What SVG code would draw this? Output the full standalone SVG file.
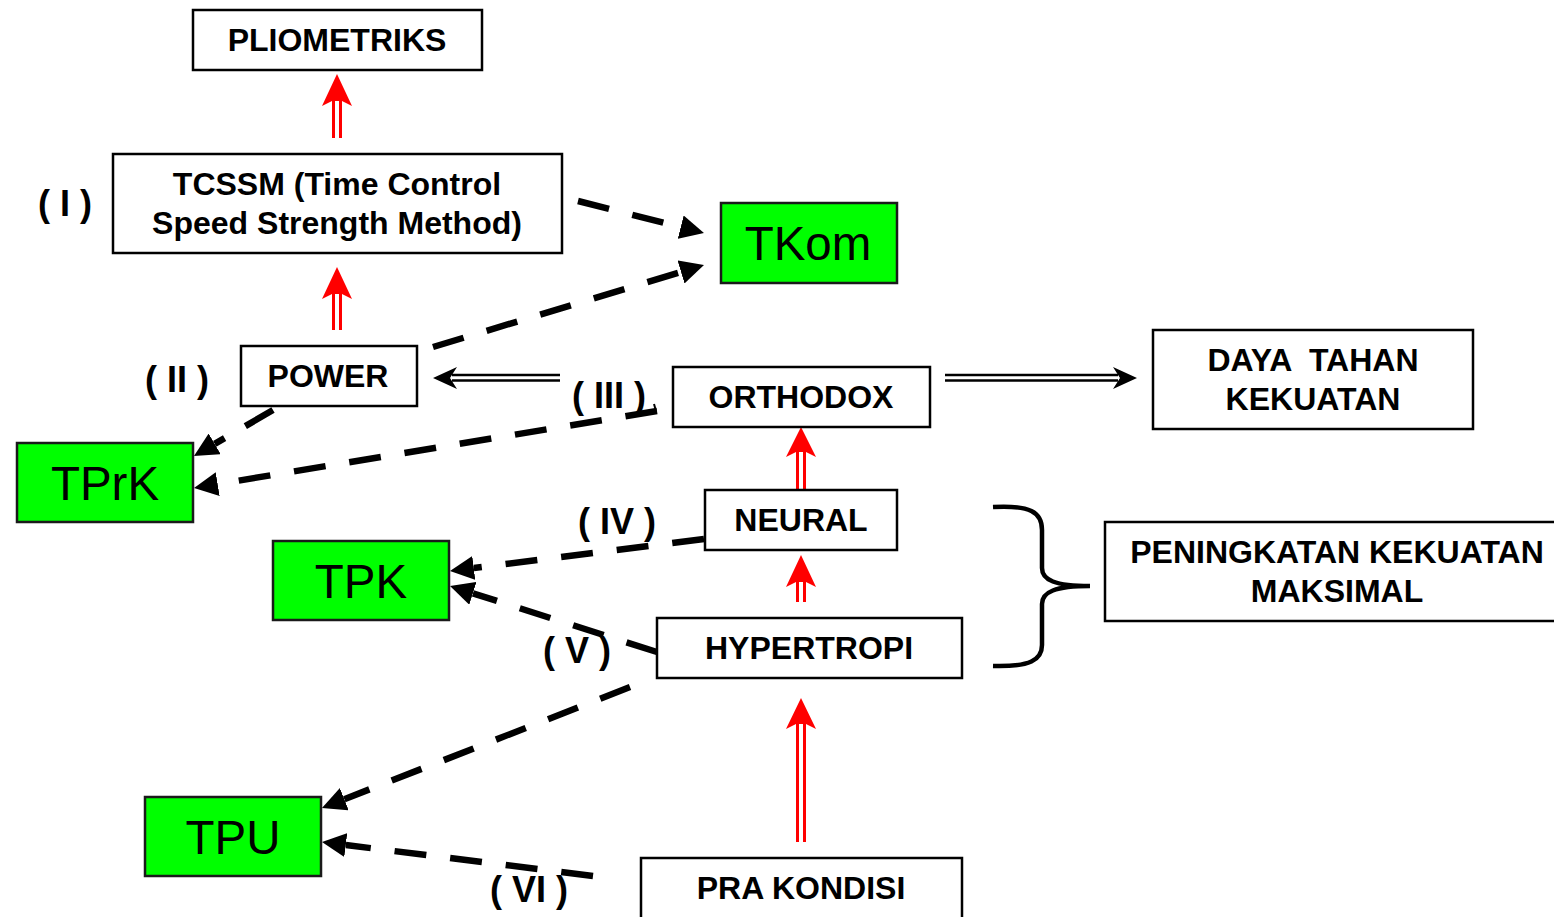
<svg xmlns="http://www.w3.org/2000/svg" width="1554" height="917" viewBox="0 0 1554 917">
<style>
.box{fill:#fff;stroke:#000;stroke-width:2.5}
.g{fill:#00ff00;stroke:#1a1a1a;stroke-width:2.5}
.t{font-family:"Liberation Sans",Arial,sans-serif;font-weight:bold;font-size:32px;text-anchor:middle;fill:#000}
.big{font-family:"Liberation Sans",Arial,sans-serif;font-size:47.5px;text-anchor:middle;fill:#000}
.lb{font-family:"Liberation Sans",Arial,sans-serif;font-weight:bold;font-size:36px;text-anchor:middle;fill:#000}
.dash{fill:none;stroke:#000;stroke-width:6.5;stroke-dasharray:32 24;marker-end:url(#ah)}
.rs{fill:none;stroke:#ff0000;stroke-width:3}
.rh{fill:#ff0000}
.bl{fill:none;stroke:#000;stroke-width:2.5}
</style>
<defs>
<marker id="ah" markerUnits="userSpaceOnUse" markerWidth="24" markerHeight="24" refX="0" refY="12" orient="auto">
<path d="M0,0 L24,12 L0,24 z" fill="#000"/>
</marker>
</defs>

<g id="connectors">
<g id="r1"><path class="rs" d="M333.5,98 V138 M340.5,98 V138"/><polygon class="rh" points="337,74 352,106 342,101 332,101 322,106"/></g>
<g id="r2"><path class="rs" d="M333.5,291 V330 M340.5,291 V330"/><polygon class="rh" points="337,267 352,299 342,294 332,294 322,299"/></g>
<g id="r3"><path class="rs" d="M797.5,449 V490 M804.5,449 V490"/><polygon class="rh" points="801,427 816,457 806,452 796,452 786,457"/></g>
<g id="r4"><path class="rs" d="M797.5,579 V602 M804.5,579 V602"/><polygon class="rh" points="801,555 816,587 806,582 796,582 786,587"/></g>
<g id="r5"><path class="rs" d="M797.5,721 V842 M804.5,721 V842"/><polygon class="rh" points="801,698 816,729 806,724 796,724 786,729"/></g>
<g id="b1"><path class="bl" d="M452,375 H560 M452,380.5 H560"/><polygon points="433,378 457,367 450,378 457,389" fill="#000"/></g>
<g id="b2"><path class="bl" d="M945,375 H1118 M945,380.5 H1118"/><polygon points="1137,378 1113,367 1120,378 1113,389" fill="#000"/></g>
<path class="dash" d="M578,201 L680.7,227.1"/>
<path class="dash" d="M433,347 L681,272"/>
<path class="dash" d="M273,410 L214.7,443.9"/>
<path class="dash" d="M657,411 L217.7,484.1"/>
<path class="dash" d="M704,539 L473.8,568"/>
<path class="dash" d="M657,652 L472.9,593.3"/>
<path class="dash" d="M630,687 L344.3,799.2"/>
<path class="dash" d="M593,876 L345.8,845"/>
<line x1="654" y1="404" x2="656" y2="411" stroke="#000" stroke-width="2"/>
<path d="M993,507 C1030,505 1042,512 1042,530 L1042,568 C1042,580 1055,586 1090,586 C1055,586 1042,592 1042,604 L1042,645 C1042,660 1030,667 993,666" fill="none" stroke="#000" stroke-width="4.5"/>
</g>

<g id="pliometriks"><rect class="box" x="193" y="10" width="289" height="60"/><text class="t" x="337" y="51">PLIOMETRIKS</text></g>
<g id="tcssm"><rect class="box" x="113" y="154" width="449" height="99"/><text class="t" x="337" y="195">TCSSM (Time Control</text><text class="t" x="337" y="234">Speed Strength Method)</text></g>
<g id="tkom"><rect class="g" x="721" y="203" width="176" height="80"/><text class="big" x="808" y="260">TKom</text></g>
<g id="power"><rect class="box" x="241" y="346" width="176" height="60"/><text class="t" x="328" y="387">POWER</text></g>
<g id="orthodox"><rect class="box" x="673" y="367" width="257" height="60"/><text class="t" x="801" y="408">ORTHODOX</text></g>
<g id="daya"><rect class="box" x="1153" y="330" width="320" height="99"/><text class="t" x="1313" y="371" xml:space="preserve">DAYA  TAHAN</text><text class="t" x="1313" y="410">KEKUATAN</text></g>
<g id="tprk"><rect class="g" x="17" y="443" width="176" height="79"/><text class="big" x="105" y="500">TPrK</text></g>
<g id="neural"><rect class="box" x="705" y="490" width="192" height="60"/><text class="t" x="801" y="531">NEURAL</text></g>
<g id="tpk"><rect class="g" x="273" y="541" width="176" height="79"/><text class="big" x="361" y="598">TPK</text></g>
<g id="peningkatan"><rect class="box" x="1105" y="522" width="460" height="99"/><text class="t" x="1337" y="563">PENINGKATAN KEKUATAN</text><text class="t" x="1337" y="602">MAKSIMAL</text></g>
<g id="hypertropi"><rect class="box" x="657" y="618" width="305" height="60"/><text class="t" x="809" y="659">HYPERTROPI</text></g>
<g id="tpu"><rect class="g" x="145" y="797" width="176" height="79"/><text class="big" x="233" y="854">TPU</text></g>
<g id="prakondisi"><rect class="box" x="641" y="858" width="321" height="80"/><text class="t" x="801" y="899">PRA KONDISI</text></g>

<g id="labels">
<text class="lb" x="65" y="216" xml:space="preserve">( I )</text>
<text class="lb" x="177" y="392" xml:space="preserve">( II )</text>
<text class="lb" x="609" y="408" xml:space="preserve">( III )</text>
<text class="lb" x="617" y="534" xml:space="preserve">( IV )</text>
<text class="lb" x="577" y="663" xml:space="preserve">( V )</text>
<text class="lb" x="529" y="902" xml:space="preserve">( VI )</text>
</g>
</svg>
